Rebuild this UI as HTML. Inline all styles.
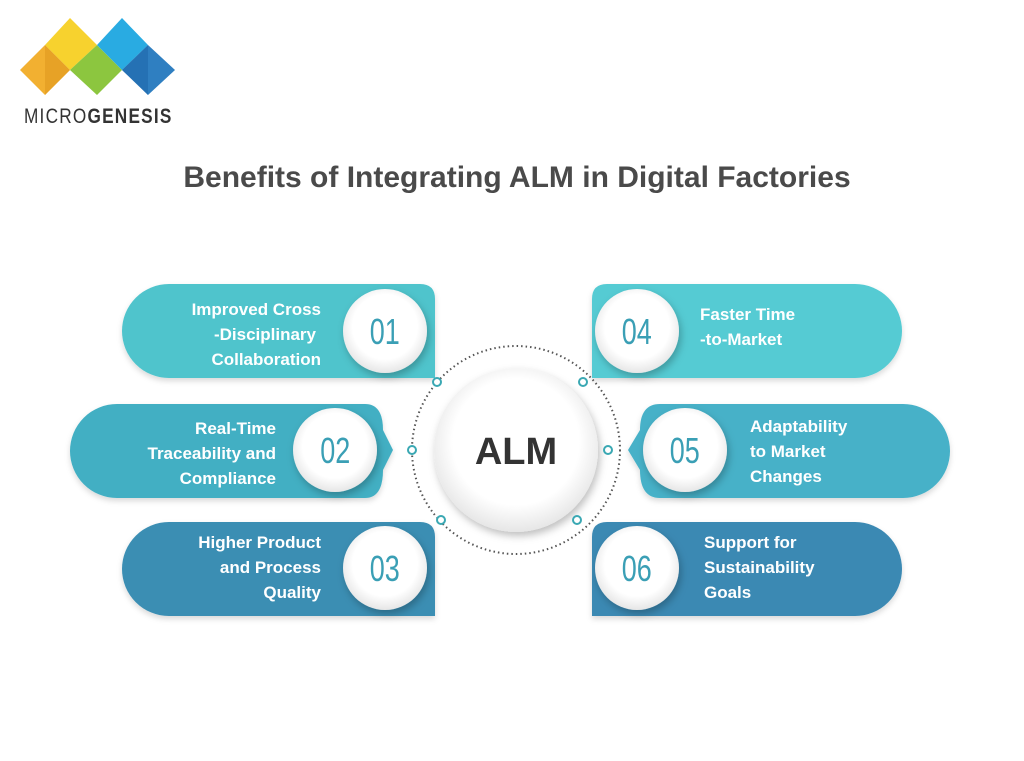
<!DOCTYPE html>
<html><head><meta charset="utf-8"><style>
body{margin:0;background:#fff;}
svg{display:block}
text{font-family:"Liberation Sans",sans-serif;}
</style></head><body>
<svg width="1024" height="761" viewBox="0 0 1024 761" xmlns="http://www.w3.org/2000/svg">
<defs>
<filter id="sh" x="-30%" y="-30%" width="160%" height="160%"><feDropShadow dx="2" dy="4" stdDeviation="4" flood-color="#000" flood-opacity="0.25"/></filter>
<filter id="sh2" x="-30%" y="-30%" width="160%" height="160%"><feDropShadow dx="0" dy="3" stdDeviation="3" flood-color="#000" flood-opacity="0.15"/></filter>
<radialGradient id="cg" cx="50%" cy="45%" r="55%"><stop offset="0.7" stop-color="#fff"/><stop offset="1" stop-color="#e6e6e6"/></radialGradient>
</defs>
<!-- logo -->
<g>
<polygon points="20,70 45,45 70,70 45,95" fill="#f2b031"/>
<polygon points="45,45 70,18 97,45 70,70" fill="#f7d22e"/>
<polygon points="70,70 97,45 122,70 97,95" fill="#8cc63f"/>
<polygon points="97,45 122,18 148,45 122,70" fill="#29abe2"/>
<polygon points="122,70 148,45 175,70 148,95" fill="#2f7fc1"/>
<polygon points="45,45 70,70 45,95" fill="#e09a20" opacity="0.6"/>
<polygon points="122,70 148,95 148,45" fill="#1c64a8" opacity="0.5"/>
<text x="24" y="123" font-size="21" fill="#333" letter-spacing="1.5" transform="translate(24,0) scale(0.82,1) translate(-24,0)">MICRO<tspan font-weight="bold">GENESIS</tspan></text>
</g>
<text x="517" y="187" font-size="30" font-weight="bold" fill="#4a4a4a" text-anchor="middle">Benefits of Integrating ALM in Digital Factories</text>

<!-- pills -->
<g filter="url(#sh2)">
<path d="M169,284 H420 Q435,284 435,299 V378 H169 A47,47 0 0 1 169,284Z" fill="#4fc4cc"/>
<path d="M117,404 H365 Q383,404 383,430 L393,450 L383,470 Q383,498 365,498 H117 A47,47 0 0 1 117,404Z" fill="#42afc3"/>
<path d="M169,522 H420 Q435,522 435,537 V616 H169 A47,47 0 0 1 169,522Z" fill="#3a8eb3"/>
<path d="M855,284 H607 Q592,284 592,299 V378 H855 A47,47 0 0 0 855,284Z" fill="#54cbd3"/>
<path d="M903,404 H660 Q640,404 640,430 L628,450 L640,470 Q640,498 660,498 H903 A47,47 0 0 0 903,404Z" fill="#46b1c8"/>
<path d="M855,522 H607 Q592,522 592,537 V616 H855 A47,47 0 0 0 855,522Z" fill="#3a89b3"/>
</g>
<!-- number circles -->
<g filter="url(#sh)" fill="url(#cg)">
<circle cx="385" cy="331" r="42"/><circle cx="335" cy="450" r="42"/><circle cx="385" cy="568" r="42"/>
<circle cx="637" cy="331" r="42"/><circle cx="685" cy="450" r="42"/><circle cx="637" cy="568" r="42"/>
</g>
<g font-size="36" fill="#3a9fb5" text-anchor="middle" transform="scale(0.75,1)">
<text x="513" y="344">01</text><text x="447" y="463">02</text><text x="513" y="581">03</text>
<text x="849" y="344">04</text><text x="913" y="463">05</text><text x="849" y="581">06</text>
</g>
<!-- labels -->
<g font-size="17" font-weight="bold" fill="#fff">
<g text-anchor="end">
<text x="321" y="315">Improved Cross</text><text x="316" y="340">-Disciplinary</text><text x="321" y="365">Collaboration</text>
<text x="276" y="434">Real-Time</text><text x="276" y="459">Traceability and</text><text x="276" y="484">Compliance</text>
<text x="321" y="548">Higher Product</text><text x="321" y="573">and Process</text><text x="321" y="598">Quality</text>
</g>
<text x="700" y="320">Faster Time</text><text x="700" y="345">-to-Market</text>
<text x="750" y="432">Adaptability</text><text x="750" y="457">to Market</text><text x="750" y="482">Changes</text>
<text x="704" y="548">Support for</text><text x="704" y="573">Sustainability</text><text x="704" y="598">Goals</text>
</g>
<!-- center -->
<circle cx="516" cy="450" r="104" fill="none" stroke="#555" stroke-width="2" stroke-dasharray="1.5 3"/>
<circle cx="516" cy="450" r="82" fill="url(#cg)" filter="url(#sh)"/>
<text x="516" y="464" font-size="38" font-weight="bold" fill="#333" text-anchor="middle">ALM</text>
<g fill="#fff" stroke="#3aa8b3" stroke-width="2">
<circle cx="437" cy="382" r="4"/><circle cx="412" cy="450" r="4"/><circle cx="441" cy="520" r="4"/>
<circle cx="583" cy="382" r="4"/><circle cx="608" cy="450" r="4"/><circle cx="577" cy="520" r="4"/>
</g>
</svg>
</body></html>
